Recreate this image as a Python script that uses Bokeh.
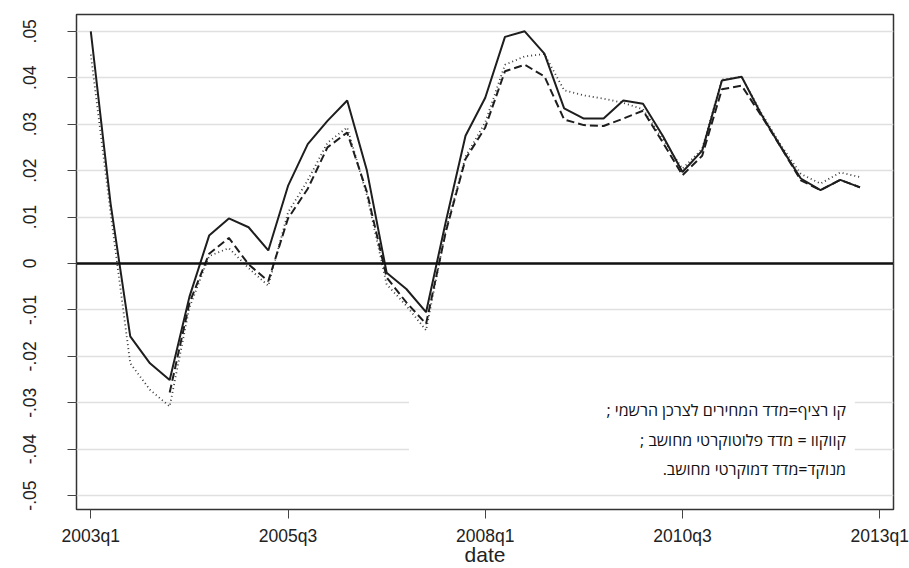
from bokeh.plotting import figure
from bokeh.models import FixedTicker, Label, BoxAnnotation, Span, Range1d, ColumnDataSource
from bokeh.embed import file_html
from bokeh.resources import INLINE
import numpy as np

# quarters 2003q1 .. 2012q4 (index 0 = 2003q1)
quarters = [f"{y}q{q}" for y in range(2003, 2013) for q in range(1, 5)]

official = [0.0500, 0.0130, -0.0157, -0.0215, -0.0251, -0.0072, 0.0060, 0.0097, 0.0078, 0.0028,
            0.0167, 0.0257, 0.0307, 0.0351, 0.0200, -0.0020, -0.0055, -0.0105, 0.0090, 0.0275,
            0.0357, 0.0488, 0.0500, 0.0452, 0.0334, 0.0312, 0.0312, 0.0351, 0.0344, 0.0275,
            0.0197, 0.0243, 0.0394, 0.0402, 0.0321, 0.0250, 0.0183, 0.0158, 0.0180, 0.0164]

plutocratic = [None, None, None, None, -0.0278, -0.0085, 0.0021, 0.0055, -0.0002, -0.0038,
               0.0097, 0.0161, 0.0250, 0.0282, 0.0154, -0.0030, -0.0084, -0.0130, 0.0068, 0.0225,
               0.0293, 0.0414, 0.0428, 0.0403, 0.0310, 0.0298, 0.0296, 0.0312, 0.0329, 0.0261,
               0.0190, 0.0232, 0.0375, 0.0383, 0.0318, 0.0250, 0.0179, 0.0158, 0.0180, 0.0164]

democratic = [0.0450, 0.0110, -0.0215, -0.0272, -0.0308, -0.0095, 0.0016, 0.0033, -0.0010, -0.0048,
              0.0110, 0.0179, 0.0260, 0.0293, 0.0147, -0.0045, -0.0091, -0.0144, 0.0072, 0.0230,
              0.0304, 0.0428, 0.0446, 0.0451, 0.0373, 0.0362, 0.0355, 0.0346, 0.0332, 0.0268,
              0.0204, 0.0247, 0.0396, 0.0402, 0.0324, 0.0254, 0.0193, 0.0172, 0.0196, 0.0186]

x_tick_labels = ["2003q1", "2005q3", "2008q1", "2010q3", "2013q1"]
y_ticks = [-0.05, -0.04, -0.03, -0.02, -0.01, 0.0, 0.01, 0.02, 0.03, 0.04, 0.05]
y_tick_labels = ["-.05", "-.04", "-.03", "-.02", "-.01", "0", ".01", ".02", ".03", ".04", ".05"]

legend_lines = ["קו רציף=מדד המחירים לצרכן הרשמי ;",
                "קווקוו = מדד פלוטוקרטי מחושב ;",
                "מנוקד=מדד דמוקרטי מחושב."]
x_title = "date"

x = list(range(len(quarters)))
src = ColumnDataSource(dict(
    x=x,
    official=official,
    plutocratic=[np.nan if v is None else v for v in plutocratic],
    democratic=democratic,
))

FONT = "Liberation Sans"
HEB_FONT = "Open Sans"
INK = "#1e1e1e"

p = figure(width=909, height=568, output_backend="svg", toolbar_location=None,
           x_range=Range1d(-0.725, 40.70), y_range=Range1d(-0.05299, 0.05362),
           min_border_left=76, min_border_right=16, min_border_top=14, min_border_bottom=54)

p.background_fill_color = "white"
p.border_fill_color = "white"
p.outline_line_color = "#333333"
p.outline_line_width = 1.5

# grid
p.xgrid.visible = False
p.ygrid.ticker = FixedTicker(ticks=y_ticks)
p.ygrid.grid_line_color = "#e0e0e0"
p.ygrid.grid_line_width = 1.6

# x axis
xticks = [quarters.index(t) if t in quarters else len(quarters) for t in x_tick_labels]
p.xaxis.ticker = FixedTicker(ticks=xticks)
p.xaxis.major_label_overrides = {t: l for t, l in zip(xticks, x_tick_labels)}
p.xaxis.axis_label = x_title
p.xaxis.axis_label_text_font = FONT
p.xaxis.axis_label_text_font_size = "21px"
p.xaxis.axis_label_text_font_style = "normal"
p.xaxis.axis_label_text_color = "#222222"
p.xaxis.axis_label_standoff = -6
# y axis
p.yaxis.ticker = FixedTicker(ticks=y_ticks)
p.yaxis.major_label_overrides = {t: l for t, l in zip(y_ticks, y_tick_labels)}
p.yaxis.major_label_orientation = "vertical"

for ax in (p.xaxis[0], p.yaxis[0]):
    ax.axis_line_color = None
    ax.major_tick_out = 9
    ax.major_tick_in = 0
    ax.minor_tick_line_color = None
    ax.major_tick_line_color = "#444444"
    ax.major_tick_line_width = 1
    ax.major_label_text_font = FONT
    ax.major_label_text_font_size = "17.5px"
    ax.major_label_text_color = "#222222"
p.xaxis.major_label_standoff = 7
p.yaxis.major_label_standoff = 31

# zero line
p.add_layout(Span(location=0, dimension="width", line_color="#111111", line_width=2.5))

# legend note box (white, hides gridlines)
p.add_layout(BoxAnnotation(left=16.13, right=38.74, top=-0.0262, bottom=-0.0475,
                           fill_color="white", fill_alpha=1.0, line_color=None, level="underlay"))

p.line("x", "democratic", source=src, line_color="#3a3a3a", line_width=1.8, line_dash="1 3")
p.line("x", "plutocratic", source=src, line_color=INK, line_width=2.0, line_dash="8 4")
p.line("x", "official", source=src, line_color=INK, line_width=2.0)

for i, (txt, yb) in enumerate(zip(legend_lines, [-0.03151, -0.03802, -0.04431])):
    p.add_layout(Label(x=38.29, y=yb, text=txt + "\u200f", text_align="right",
                       text_baseline="alphabetic", text_font=HEB_FONT, text_font_size="16px",
                       text_color="#111111"))

open("out.html", "w").write(file_html(p, INLINE))
